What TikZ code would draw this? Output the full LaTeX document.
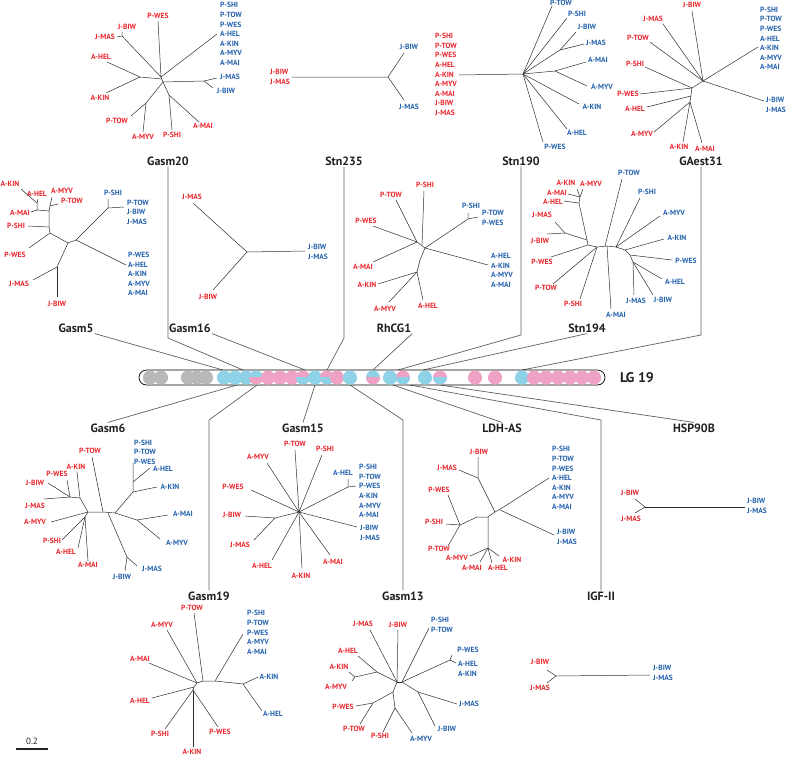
\documentclass[tikz,border=0pt]{standalone}
\usepackage{fontspec}
\setmainfont{PT Sans}
\usetikzlibrary{positioning}
\definecolor{labred}{RGB}{232,38,45}
\definecolor{labblue}{RGB}{36,98,172}
\definecolor{pinkc}{RGB}{240,162,196}
\definecolor{cyanc}{RGB}{142,210,232}
\definecolor{grayc}{RGB}{185,185,185}
\definecolor{ttlgray}{RGB}{35,31,32}
\definecolor{brgray}{RGB}{45,45,45}
\definecolor{lnkgray}{RGB}{95,95,95}
\tikzset{
  lab/.style={inner sep=0pt, font=\fontsize{7.5}{9.6}\selectfont\bfseries, align=left},
  rl/.style={lab, text=labred},
  bl/.style={lab, text=labblue},
  ttl/.style={inner sep=1pt, font=\fontsize{12}{14}\selectfont\bfseries, text=ttlgray},
  br/.style={draw=brgray, line width=0.5pt},
  lnk/.style={draw=lnkgray, line width=0.7pt},
}
\begin{document}
\begin{tikzpicture}[x=1pt,y=-1pt]
\useasboundingbox (0,0) rectangle (788,756);

% ---- titles ----
\node[ttl] (tg20) at (168,161) {Gasm20};
\node[ttl] (ts235) at (344,161) {Stn235};
\node[ttl] (ts190) at (521,161) {Stn190};
\node[ttl] (tga31) at (701,161) {GAest31};
\node[ttl] (tg5) at (76,328) {Gasm5};
\node[ttl] (tg16) at (190,328) {Gasm16};
\node[ttl] (trh) at (394,328) {RhCG1};
\node[ttl] (ts194) at (587,328) {Stn194};
\node[ttl] (tg6) at (108,428) {Gasm6};
\node[ttl] (tg15) at (303,428) {Gasm15};
\node[ttl] (tld) at (502,428) {LDH-AS};
\node[ttl] (thsp) at (694,428) {HSP90B};
\node[ttl] (tg19) at (209,596) {Gasm19};
\node[ttl] (tg13) at (403,596) {Gasm13};
\node[ttl] (tigf) at (601,596) {IGF-II};
\node[ttl, font=\fontsize{14}{16}\selectfont\bfseries] (tlg) at (637,378) {LG 19};

% ---- links to the chromosome ----
\coordinate (b5) at (223,370);
\coordinate (b20) at (243,370);
\coordinate (b16) at (305,370);
\coordinate (b235) at (327,370);
\coordinate (brh) at (373,370);
\coordinate (b190) at (398,370);
\coordinate (b194) at (423,370);
\coordinate (bga) at (522,370);
\coordinate (b6) at (237,385);
\coordinate (b19) at (257,385);
\coordinate (b15) at (315,385);
\coordinate (b13) at (350,385);
\coordinate (bld) at (393,385);
\coordinate (bigf) at (410,385);
\coordinate (bhsp) at (440,385);
\coordinate (k20) at (168,338);
\coordinate (k235) at (344,338);
\coordinate (k190) at (521,335);
\coordinate (kga) at (701,335);
\coordinate (k19) at (209,420);
\coordinate (k13) at (403,420);
\coordinate (kigf) at (601,420);
\draw[lnk] (tg5.south east) -- (b5);
\draw[lnk] (tg20.south) -- (k20) -- (b20);
\draw[lnk] (tg16.south east) -- (b16);
\draw[lnk] (ts235.south) -- (k235) -- (b235);
\draw[lnk] (trh.south east) -- (brh);
\draw[lnk] (ts190.south) -- (k190) -- (b190);
\draw[lnk] (ts194.south) -- (b194);
\draw[lnk] (tga31.south) -- (kga) -- (bga);
\draw[lnk] (tg6.north) -- (b6);
\draw[lnk] (tg19.north) -- (k19) -- (b19);
\draw[lnk] (tg15.north) -- (b15);
\draw[lnk] (tg13.north) -- (k13) -- (b13);
\draw[lnk] (tld.north) -- (bld);
\draw[lnk] (tigf.north) -- (kigf) -- (bigf);
\draw[lnk] (thsp.north) -- (bhsp);

% ---- chromosome bar ----
\node[draw, fill=white, line width=0.7pt, rounded corners=7.5pt, minimum width=466pt, minimum height=15pt, inner sep=0pt] (bar) at (372,377.5) {};
\foreach \x/\ct/\cb in {150/grayc/grayc, 161/grayc/grayc, 188/grayc/grayc, 197/grayc/grayc, 206/grayc/grayc,
    224/cyanc/cyanc, 235/cyanc/cyanc, 246/cyanc/cyanc, 256/cyanc/pinkc,
    268/pinkc/pinkc, 280/pinkc/pinkc, 292/pinkc/pinkc, 303/pinkc/cyanc, 315/cyanc/cyanc, 327/pinkc/cyanc, 337/pinkc/pinkc,
    350/cyanc/cyanc, 373/cyanc/pinkc, 390/cyanc/cyanc, 403/pinkc/cyanc, 425/cyanc/cyanc, 440/pinkc/cyanc,
    475/pinkc/pinkc, 495/pinkc/pinkc, 522/cyanc/cyanc, 534/pinkc/pinkc, 546/pinkc/pinkc, 558/pinkc/pinkc,
    570/pinkc/pinkc, 582/pinkc/pinkc, 594/pinkc/pinkc} {
  \fill[\ct] (\x,377.5) circle (7);
  \begin{scope}
    \clip (\x-7,377.5) rectangle (\x+7,385);
    \fill[\cb] (\x,377.5) circle (7);
  \end{scope}
}

% ---- Gasm20 tree ----
\node[rl] (g20a) at (158,16) {P-WES};
\node[rl] (g20b) at (127,27) {J-BIW};
\node[rl] (g20c) at (105,37) {J-MAS};
\node[rl] (g20d) at (101,57) {A-HEL};
\node[rl] (g20e) at (100,98) {A-KIN};
\node[rl] (g20f) at (117,121) {P-TOW};
\node[rl] (g20g) at (143,137) {A-MYV};
\node[rl] (g20h) at (172,135) {P-SHI};
\node[rl] (g20i) at (203,126) {A-MAI};
\node[bl, anchor=west] (g20j) at (220,34) {P-SHI\\P-TOW\\P-WES\\A-HEL\\A-KIN\\A-MYV\\A-MAI};
\node[bl] (g20k) at (230,77) {J-MAS};
\node[bl] (g20l) at (226,91) {J-BIW};
\draw[br] (161,77) -- (163,82);
\draw[br] (158,21) -- (161,77) -- (122,36) -- (122,32);
\draw[br] (122,36) -- (117,37);
\draw[br] (161,77) -- (217,34);
\draw[br] (162,79) -- (140,77) -- (107,62);
\draw[br] (140,77) -- (106,93);
\draw[br] (163,82) -- (204,81) -- (217,78);
\draw[br] (204,81) -- (213,88);
\draw[br] (163,82) -- (146,103) -- (131,116);
\draw[br] (146,103) -- (143,132);
\draw[br] (163,82) -- (169,95) -- (172,130);
\draw[br] (169,95) -- (199,122);

% ---- Stn235 tree ----
\node[rl, anchor=west] (s235a) at (270,77) {J-BIW\\J-MAS};
\node[bl] (s235b) at (409,47) {J-BIW};
\node[bl] (s235c) at (409,107) {J-MAS};
\draw[br] (292,77) -- (388,77) -- (404,53);
\draw[br] (388,77) -- (404,100);

% ---- Stn190 tree ----
\node[rl, anchor=west] (s190a) at (435,74.5) {P-SHI\\P-TOW\\P-WES\\A-HEL\\A-KIN\\A-MYV\\A-MAI\\J-BIW\\J-MAS};
\node[bl] (s190b) at (561,3) {P-TOW};
\node[bl] (s190c) at (577,14) {P-SHI};
\node[bl] (s190d) at (587,27) {J-BIW};
\node[bl] (s190e) at (596,43) {J-MAS};
\node[bl] (s190f) at (598,60) {A-MAI};
\node[bl] (s190g) at (602,87) {A-MYV};
\node[bl] (s190h) at (592,107) {A-KIN};
\node[bl] (s190i) at (577,133) {A-HEL};
\node[bl] (s190j) at (555,147) {P-WES};
\coordinate (s190o) at (523,74);
\draw[br] (459,75) -- (s190o) -- (552,6);
\draw[br] (s190o) -- (567,18);
\draw[br] (s190o) -- (560,50) -- (576,32);
\draw[br] (560,50) -- (584,44);
\draw[br] (s190o) -- (555,71) -- (586,62);
\draw[br] (555,71) -- (587,86);
\draw[br] (s190o) -- (579,104);
\draw[br] (s190o) -- (567,129);
\draw[br] (s190o) -- (543,142);

% ---- GAest31 tree ----
\node[rl] (ga31a) at (692,5) {J-BIW};
\node[rl] (ga31b) at (653,19) {J-MAS};
\node[rl] (ga31c) at (638,38) {P-TOW};
\node[rl] (ga31d) at (635,64) {P-SHI};
\node[rl] (ga31e) at (628,94) {P-WES};
\node[rl] (ga31f) at (635,109) {A-HEL};
\node[rl] (ga31g) at (642,134) {A-MYV};
\node[rl] (ga31h) at (679,147) {A-KIN};
\node[rl] (ga31i) at (705,149) {A-MAI};
\node[bl, anchor=west] (ga31j) at (760,38.5) {P-SHI\\P-TOW\\P-WES\\A-HEL\\A-KIN\\A-MYV\\A-MAI};
\node[bl, anchor=west] (ga31k) at (766,105) {J-BIW\\J-MAS};
\coordinate (ga31o) at (703,81);
\coordinate (ga31p) at (692,88);
\coordinate (ga31q) at (690,102);
\draw[br] (692,11) -- (ga31o) -- (663,24);
\draw[br] (650,42) -- (ga31o) -- (758,47);
\draw[br] (ga31o) -- (764,101);
\draw[br] (ga31o) -- (ga31p) -- (ga31q);
\draw[br] (ga31p) -- (645,67);
\draw[br] (ga31p) -- (640,94);
\draw[br] (691,96) -- (647,107);
\draw[br] (ga31q) -- (654,132);
\draw[br] (ga31q) -- (683,142);
\draw[br] (ga31q) -- (702,143);

% ---- Gasm5 tree ----
\node[rl] (g5a) at (10,184) {A-KIN};
\node[rl] (g5b) at (37,194) {A-HEL};
\node[rl] (g5c) at (62,191) {A-MYV};
\node[rl] (g5d) at (72,201) {P-TOW};
\node[rl] (g5e) at (20,213) {A-MAI};
\node[rl] (g5f) at (16,226) {P-SHI};
\node[rl] (g5g) at (15,255) {P-WES};
\node[rl] (g5h) at (19,284) {J-MAS};
\node[rl] (g5i) at (57,304) {J-BIW};
\node[bl] (g5j) at (113,193) {P-SHI};
\node[bl, anchor=west] (g5k) at (127,212) {P-TOW\\J-BIW\\J-MAS};
\node[bl, anchor=west] (g5l) at (128,274) {P-WES\\A-HEL\\A-KIN\\A-MYV\\A-MAI};
\draw[br] (76,240) -- (68,243);
\draw[br] (76,240) -- (108,208) -- (108,199);
\draw[br] (108,208) -- (124,207);
\draw[br] (76,240) -- (126,265);
\draw[br] (50,233) -- (68,243) -- (57,267) -- (33,280);
\draw[br] (57,267) -- (57,297);
\draw[br] (50,233) -- (29,248);
\draw[br] (50,233) -- (49,227) -- (28,226);
\draw[br] (49,227) -- (49,211) -- (37,210) -- (37,203) -- (21,189);
\draw[br] (37,203) -- (38,199);
\draw[br] (37,210) -- (31,212);
\draw[br] (49,211) -- (50,206) -- (52,197);
\draw[br] (50,206) -- (58,204);

% ---- Gasm16 tree ----
\node[rl] (g16a) at (192,197) {J-MAS};
\node[rl] (g16b) at (208,297) {J-BIW};
\node[bl, anchor=west] (g16c) at (308,252) {J-BIW\\J-MAS};
\coordinate (g16o) at (247,252);
\draw[br] (193,203) -- (g16o) -- (213,290);
\draw[br] (g16o) -- (305,251);

% ---- RhCG1 tree ----
\node[rl] (rha) at (425,185) {P-SHI};
\node[rl] (rhb) at (391,195) {P-TOW};
\node[rl] (rhc) at (366,221) {P-WES};
\node[rl] (rhd) at (363,267) {A-MAI};
\node[rl] (rhe) at (367,285) {A-KIN};
\node[rl] (rhf) at (385,309) {A-MYV};
\node[rl] (rhg) at (428,306) {A-HEL};
\node[bl] (rhh) at (471,206) {P-SHI};
\node[bl, anchor=west] (rhi) at (482,218) {P-TOW\\P-WES};
\node[bl, anchor=west] (rhj) at (491,270.5) {A-HEL\\A-KIN\\A-MYV\\A-MAI};
\coordinate (rho) at (417,242);
\coordinate (rhp) at (425,248);
\draw[br] (rho) -- (rhp);
\draw[br] (422,245) -- (424,191);
\draw[br] (rho) -- (396,200);
\draw[br] (rho) -- (373,226);
\draw[br] (rho) -- (373,262);
\draw[br] (rhp) -- (468,219) -- (468,213);
\draw[br] (468,219) -- (478,217);
\draw[br] (rhp) -- (488,265);
\draw[br] (rhp) -- (420,260) -- (417,272) -- (378,284);
\draw[br] (417,272) -- (389,302);
\draw[br] (417,272) -- (423,300);

% ---- Stn194 tree ----
\node[rl] (s194a) at (566,183) {A-KIN};
\node[rl] (s194b) at (591,184) {A-MYV};
\node[rl] (s194c) at (557,193) {A-MAI};
\node[rl] (s194d) at (553,202) {A-HEL};
\node[rl] (s194e) at (542,215) {J-MAS};
\node[rl] (s194f) at (540,241) {J-BIW};
\node[rl] (s194g) at (542,262) {P-WES};
\node[rl] (s194h) at (546,288) {P-TOW};
\node[rl] (s194i) at (573,304) {P-SHI};
\node[bl] (s194j) at (629,173) {P-TOW};
\node[bl] (s194k) at (647,192) {P-SHI};
\node[bl] (s194l) at (674,213) {A-MYV};
\node[bl] (s194m) at (677,238) {A-KIN};
\node[bl] (s194n) at (686,261) {P-WES};
\node[bl] (s194p) at (675,282) {A-HEL};
\node[bl] (s194q) at (663,300) {J-BIW};
\node[bl] (s194r) at (636,301) {J-MAS};
\node[bl] (s194s) at (616,315) {A-MAI};
\draw[br] (588,245) -- (597,247) -- (607,246) -- (616,247) -- (625,250) -- (630,255) -- (633,262);
\draw[br] (588,245) -- (551,257);
\draw[br] (588,245) -- (587,240) -- (565,233) -- (555,222);
\draw[br] (565,233) -- (547,234);
\draw[br] (587,240) -- (579,203) -- (564,201);
\draw[br] (579,203) -- (580,197) -- (568,194);
\draw[br] (580,197) -- (577,189);
\draw[br] (580,197) -- (583,189);
\draw[br] (597,247) -- (553,284);
\draw[br] (597,247) -- (580,299);
\draw[br] (607,246) -- (611,309);
\draw[br] (605,246) -- (622,179);
\draw[br] (616,247) -- (640,198);
\draw[br] (616,247) -- (660,216);
\draw[br] (625,250) -- (664,239);
\draw[br] (630,255) -- (672,260);
\draw[br] (633,262) -- (662,279);
\draw[br] (633,262) -- (653,295);
\draw[br] (633,262) -- (634,295);

% ---- Gasm6 tree ----
\node[rl] (g6a) at (90,451) {P-TOW};
\node[rl] (g6b) at (76,467) {A-KIN};
\node[rl] (g6c) at (57,474) {P-WES};
\node[rl] (g6d) at (35,483) {J-BIW};
\node[rl] (g6e) at (35,506) {J-MAS};
\node[rl] (g6f) at (35,522) {A-MYV};
\node[rl] (g6g) at (52,541) {P-SHI};
\node[rl] (g6h) at (66,552) {A-HEL};
\node[rl] (g6i) at (88,565) {A-MAI};
\node[bl, anchor=west] (g6j) at (134,452) {P-SHI\\P-TOW\\P-WES};
\node[bl] (g6k) at (163,469) {A-HEL};
\node[bl] (g6l) at (170,487) {A-KIN};
\node[bl] (g6m) at (183,514) {A-MAI};
\node[bl] (g6n) at (177,543) {A-MYV};
\node[bl] (g6p) at (152,569) {J-MAS};
\node[bl] (g6q) at (122,577) {J-BIW};
\coordinate (g6o) at (88,512);
\coordinate (g6r) at (103,512);
\coordinate (g6s) at (115,513);
\draw[br] (g6o) -- (g6r) -- (g6s);
\draw[br] (g6r) -- (92,457);
\draw[br] (g6o) -- (80,498) -- (77,472);
\draw[br] (80,498) -- (70,497) -- (67,480);
\draw[br] (70,497) -- (48,483);
\draw[br] (70,497) -- (44,499);
\draw[br] (g6o) -- (51,522);
\draw[br] (g6o) -- (85,517) -- (62,540);
\draw[br] (85,517) -- (78,548);
\draw[br] (85,517) -- (88,561);
\draw[br] (108,513) -- (127,557) -- (125,571);
\draw[br] (127,557) -- (137,566);
\draw[br] (g6s) -- (133,492) -- (133,463);
\draw[br] (133,492) -- (157,487);
\draw[br] (133,482) -- (150,468);
\draw[br] (g6s) -- (137,520) -- (168,515);
\draw[br] (137,520) -- (160,539);

% ---- Gasm15 tree ----
\node[rl] (g15a) at (295,444) {P-TOW};
\node[rl] (g15b) at (325,449) {P-SHI};
\node[rl] (g15c) at (258,457) {A-MYV};
\node[rl] (g15d) at (233,487) {P-WES};
\node[rl] (g15e) at (232,515) {J-BIW};
\node[rl] (g15f) at (240,545) {J-MAS};
\node[rl] (g15g) at (262,566) {A-HEL};
\node[rl] (g15h) at (301,576) {A-KIN};
\node[rl] (g15i) at (333,562) {A-MAI};
\node[bl] (g15j) at (343,473) {A-HEL};
\node[bl, anchor=west] (g15k) at (359,491) {P-SHI\\P-TOW\\P-WES\\A-KIN\\A-MYV\\A-MAI};
\node[bl, anchor=west] (g15l) at (360,533) {J-BIW\\J-MAS};
\coordinate (g15o) at (299,512);
\draw[br] (295,450) -- (g15o) -- (322,455);
\draw[br] (267,463) -- (g15o) -- (251,490);
\draw[br] (g15o) -- (275,518) -- (245,516);
\draw[br] (275,518) -- (254,540);
\draw[br] (g15o) -- (272,560);
\draw[br] (g15o) -- (302,568);
\draw[br] (g15o) -- (330,555);
\draw[br] (g15o) -- (348,487) -- (348,479);
\draw[br] (348,487) -- (356,486);
\draw[br] (g15o) -- (357,527);

% ---- LDH-AS tree ----
\node[rl] (lda) at (479,452) {J-BIW};
\node[rl] (ldb) at (447,468) {J-MAS};
\node[rl] (ldc) at (439,490) {P-WES};
\node[rl] (ldd) at (434,522) {P-SHI};
\node[rl] (lde) at (439,549) {P-TOW};
\node[rl] (ldf) at (457,558) {A-MYV};
\node[rl] (ldg) at (472,568) {A-MAI};
\node[rl] (ldh) at (498,568) {A-HEL};
\node[rl] (ldi) at (512,560) {A-KIN};
\node[bl, anchor=west] (ldj) at (552,478) {P-SHI\\P-TOW\\P-WES\\A-HEL\\A-KIN\\A-MYV\\A-MAI};
\node[bl, anchor=west] (ldk) at (557,537) {J-BIW\\J-MAS};
\coordinate (ldo) at (495,512);
\coordinate (ldp) at (502,508);
\coordinate (ldq) at (488,517);
\draw[br] (ldo) -- (ldp) -- (549,478);
\draw[br] (500,510) -- (554,535);
\draw[br] (ldo) -- (478,478) -- (478,457);
\draw[br] (478,478) -- (459,470);
\draw[br] (ldo) -- (ldq) -- (477,517) -- (460,525) -- (448,495);
\draw[br] (460,525) -- (446,524);
\draw[br] (460,525) -- (448,546);
\draw[br] (ldq) -- (488,548) -- (470,556);
\draw[br] (488,548) -- (480,562);
\draw[br] (488,548) -- (492,563);
\draw[br] (488,548) -- (499,556);

% ---- HSP90B tree ----
\node[rl] (hspa) at (630,493) {J-BIW};
\node[rl] (hspb) at (631,519) {J-MAS};
\node[bl, anchor=west] (hspc) at (747,506) {J-BIW\\J-MAS};
\coordinate (hspo) at (645,507);
\draw[br] (635,499) -- (hspo) -- (635,513);
\draw[br] (hspo) -- (745,507);

% ---- Gasm19 tree ----
\node[rl] (g19a) at (192,608) {P-TOW};
\node[rl] (g19b) at (162,625) {A-MYV};
\node[rl] (g19c) at (140,659) {A-MAI};
\node[rl] (g19d) at (140,701) {A-HEL};
\node[rl] (g19e) at (160,734) {P-SHI};
\node[rl] (g19f) at (192,752) {A-KIN};
\node[rl] (g19g) at (220,732) {P-WES};
\node[bl, anchor=west] (g19h) at (247,632.5) {P-SHI\\P-TOW\\P-WES\\A-MYV\\A-MAI};
\node[bl] (g19i) at (269,677) {A-KIN};
\node[bl] (g19j) at (273,714) {A-HEL};
\coordinate (g19o) at (197,683);
\coordinate (g19p) at (203,681);
\coordinate (g19q) at (215,681);
\coordinate (g19r) at (243,684);
\draw[br] (g19o) -- (g19p) -- (g19q) -- (g19r);
\draw[br] (g19p) -- (194,613);
\draw[br] (g19q) -- (243,634);
\draw[br] (g19r) -- (258,677);
\draw[br] (g19r) -- (262,711);
\draw[br] (g19o) -- (167,630);
\draw[br] (g19o) -- (149,663);
\draw[br] (g19o) -- (194,687) -- (152,698);
\draw[br] (194,687) -- (193,690) -- (165,729);
\draw[br] (193,690) -- (193,747);
\draw[br] (193,690) -- (218,727);

% ---- Gasm13 tree ----
\node[rl] (g13a) at (363,624) {J-MAS};
\node[rl] (g13b) at (398,625) {J-BIW};
\node[rl] (g13c) at (348,651) {A-HEL};
\node[rl] (g13d) at (339,667) {A-KIN};
\node[rl] (g13e) at (336,687) {A-MYV};
\node[rl] (g13f) at (343,707) {P-WES};
\node[rl] (g13g) at (354,729) {P-TOW};
\node[rl] (g13h) at (380,736) {P-SHI};
\node[bl, anchor=west] (g13i) at (431,625) {P-SHI\\P-TOW};
\node[bl] (g13j) at (468,650) {P-WES};
\node[bl, anchor=west] (g13k) at (458,669) {A-HEL\\A-KIN};
\node[bl] (g13l) at (469,704) {J-MAS};
\node[bl] (g13m) at (447,729) {J-BIW};
\node[bl] (g13n) at (421,739) {A-MYV};
\coordinate (g13o) at (397,682);
\coordinate (g13p) at (402,682);
\draw[br] (g13o) -- (g13p);
\draw[br] (g13o) -- (370,630);
\draw[br] (g13o) -- (398,630);
\draw[br] (g13o) -- (377,672) -- (358,656);
\draw[br] (377,672) -- (355,677) -- (349,672);
\draw[br] (355,677) -- (352,681);
\draw[br] (g13p) -- (429,628);
\draw[br] (g13p) -- (450,660) -- (452,655);
\draw[br] (450,660) -- (456,663);
\draw[br] (g13p) -- (418,692) -- (457,704);
\draw[br] (418,692) -- (435,726);
\draw[br] (g13o) -- (393,692) -- (395,708) -- (412,733);
\draw[br] (395,708) -- (383,732);
\draw[br] (393,692) -- (373,703) -- (356,706);
\draw[br] (373,703) -- (360,724);

% ---- IGF-II tree ----
\node[rl] (igfa) at (540,662) {J-BIW};
\node[rl] (igfb) at (540,688) {J-MAS};
\node[bl, anchor=west] (igfc) at (653,673) {J-BIW\\J-MAS};
\coordinate (igfo) at (556,676);
\draw[br] (547,670) -- (igfo) -- (547,683);
\draw[br] (igfo) -- (650,675);

% ---- scale bar ----
\coordinate (sca) at (16,749);
\coordinate (scb) at (48,749);
\draw[line width=1.8pt, ttlgray] (sca) -- (scb);
\node[inner sep=0pt, font=\fontsize{9}{10}\selectfont, text=ttlgray] (scl) at (32,741) {0.2};
\end{tikzpicture}
\end{document}
